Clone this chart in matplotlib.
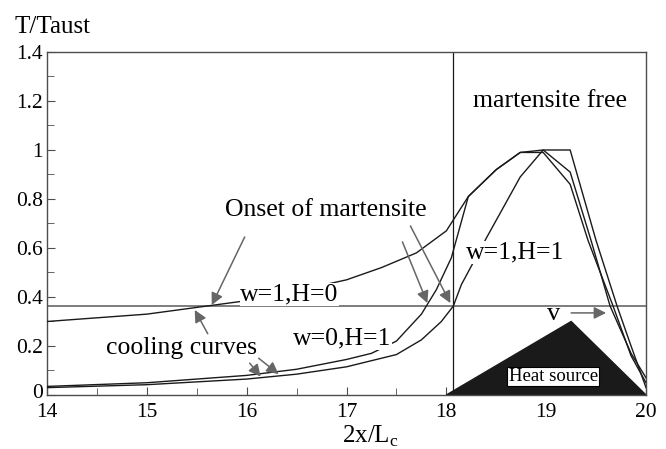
import matplotlib
matplotlib.use('Agg')
import matplotlib.pyplot as plt
from matplotlib.transforms import ScaledTranslation

plt.rcParams['font.family'] = ['Liberation Serif', 'DejaVu Serif']
plt.rcParams['mathtext.fontset'] = 'custom'
plt.rcParams['mathtext.rm'] = 'Liberation Serif'

# curve w=1,H=0
xa = [14, 15, 15.6, 16, 16.5, 17, 17.35, 17.7, 18.0, 18.22, 18.5, 18.74, 18.97, 19.24, 19.45, 19.64, 19.85, 20]
ya = [0.30, 0.33, 0.363, 0.385, 0.425, 0.47, 0.52, 0.58, 0.67, 0.81, 0.92, 0.99, 1.0, 0.91, 0.63, 0.363, 0.17, 0.07]
# curve w=0,H=1
xb = [14, 15, 16, 16.5, 17, 17.25, 17.5, 17.75, 17.9, 18.05, 18.22, 18.5, 18.74, 18.97, 19.24, 19.42, 19.67, 19.85, 20]
yb = [0.035, 0.05, 0.08, 0.105, 0.145, 0.17, 0.22, 0.33, 0.43, 0.56, 0.81, 0.92, 0.99, 0.99, 0.86, 0.63, 0.363, 0.16, 0.05]
# curve w=1,H=1
xc = [14, 15, 16, 16.5, 17, 17.5, 17.75, 17.95, 18.07, 18.15, 18.4, 18.74, 18.97, 19.24, 19.5, 19.71, 19.85, 20]
yc = [0.03, 0.042, 0.065, 0.085, 0.115, 0.165, 0.225, 0.30, 0.363, 0.45, 0.64, 0.89, 1.0, 1.0, 0.63, 0.363, 0.2, 0.03]

# heat source triangle
xh = [18.0, 19.25, 20]
yh = [0, 0.30, 0]

onset_level = 0.363
front_x = 18.07

fig = plt.figure(figsize=(6.66, 4.49), dpi=100)
ax = fig.add_axes([0.0706, 0.1203, 0.8994, 0.7639])

ax.fill(xh, yh, color='#1a1a1a', zorder=2)
ax.plot([14, 20], [onset_level, onset_level], color='0.45', lw=1.3, zorder=1)
ax.axvline(front_x, color='0.1', lw=0.9, zorder=1)

for x, y in [(xa, ya), (xb, yb), (xc, yc)]:
    ax.plot(x, y, color='0.1', lw=1.0, zorder=3)

ax.set_xlim(14, 20)
ax.set_ylim(0, 1.4)
ax.set_xticks([14, 15, 16, 17, 18, 19, 20])
ax.set_xticks([14.5, 15.5, 16.5, 17.5, 18.5, 19.5], minor=True)
ax.set_yticks([0, 0.2, 0.4, 0.6, 0.8, 1.0, 1.2, 1.4])
ax.set_yticklabels(['0', '0.2', '0.4', '0.6', '0.8', '1', '1.2', '1.4'])
ax.set_yticks([0.1, 0.3, 0.5, 0.7, 0.9, 1.1, 1.3], minor=True)
ax.tick_params(which='both', direction='in', labelsize=15.5, color='0.3')
ax.tick_params(axis='x', pad=6)
ax.tick_params(axis='y', pad=3)
ax.tick_params(which='major', length=6)
ax.tick_params(which='minor', length=5)
for s in ax.spines.values():
    s.set_color('0.3')
    s.set_linewidth(1.0)
# lift the "0" a little so it clears the "14" below it
zero = ax.yaxis.get_major_ticks()[0].label1
zero.set_transform(zero.get_transform() + ScaledTranslation(0, 3 / 72, fig.dpi_scale_trans))

ax.set_xlabel('2x/L$_\\mathregular{c}$', fontsize=18)
ax.xaxis.set_label_coords(0.539, -0.083)
fig.text(0.022, 0.94, 'T/Taust', fontsize=18, ha='left', va='center')

wbox = dict(facecolor='white', edgecolor='none', pad=0.3)
ax.text(16.43, 0.41, 'w=1,H=0', fontsize=18.5, ha='center', va='center', bbox=wbox, zorder=4)
ax.text(16.96, 0.23, 'w=0,H=1', fontsize=18.5, ha='center', va='center', bbox=wbox, zorder=4)
ax.text(18.69, 0.58, 'w=1,H=1', fontsize=18.5, ha='center', va='center', bbox=wbox, zorder=4)
ax.text(19.04, 1.2, 'martensite free', fontsize=18.5, ha='center', va='center')
ax.text(16.79, 0.755, 'Onset of martensite', fontsize=18.5, ha='center', va='center')
ax.text(15.35, 0.19, 'cooling curves', fontsize=18.5, ha='center', va='center')
ax.text(19.07, 0.33, 'v', fontsize=19, ha='center', va='center')
ax.text(19.07, 0.075, 'Heat source', fontsize=13.5, ha='center', va='center', zorder=5,
        bbox=dict(facecolor='white', edgecolor='black', pad=1.0, lw=0.8))

arr = dict(arrowstyle='-|>', color='0.4', lw=1.1, mutation_scale=18, shrinkA=0, shrinkB=0)
for (sx, sy), (tx, ty) in [((15.98, 0.645), (15.65, 0.367)),
                           ((17.56, 0.625), (17.81, 0.375)),
                           ((17.64, 0.69), (18.04, 0.375)),
                           ((15.61, 0.25), (15.48, 0.347)),
                           ((16.03, 0.13), (16.14, 0.075)),
                           ((16.12, 0.15), (16.32, 0.085)),
                           ((19.25, 0.335), (19.6, 0.335))]:
    ax.annotate('', xy=(tx, ty), xytext=(sx, sy), arrowprops=arr, zorder=4)

fig.savefig('out.png', dpi=100)
